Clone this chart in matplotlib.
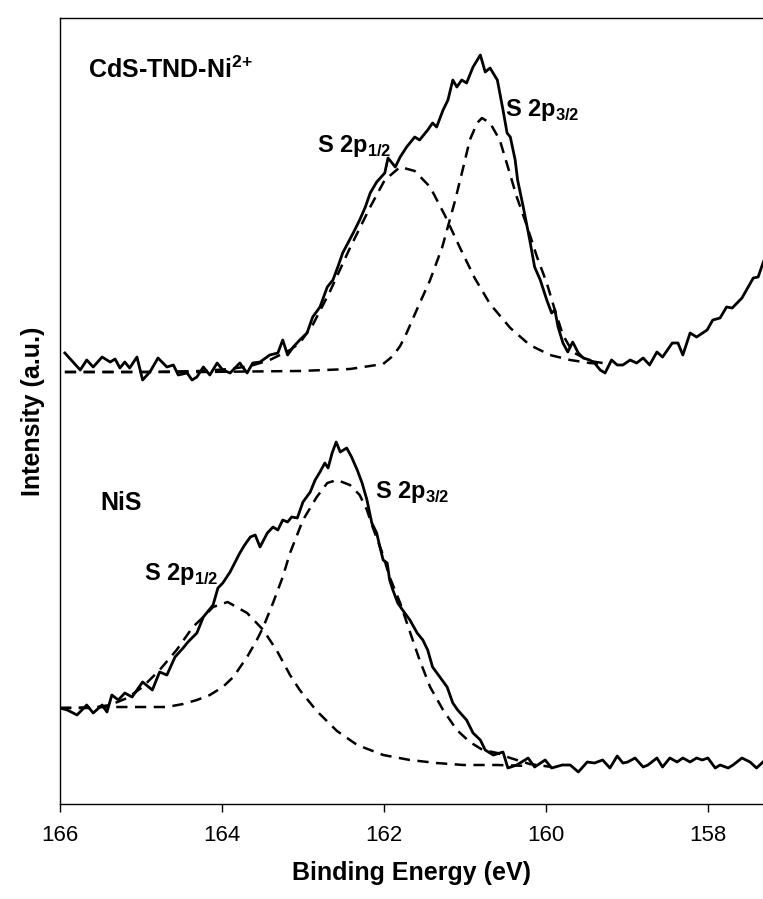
import matplotlib
matplotlib.use("Agg")
import matplotlib.pyplot as plt

# --- data (binding energy in eV, intensity in a.u.) ---

# CdS-TND-Ni2+ : measured spectrum
cds_energy = [165.94, 165.75, 165.67, 165.59, 165.48, 165.38, 165.32, 165.26, 165.20, 165.14,
              165.05, 164.98, 164.89, 164.79, 164.68, 164.60, 164.54, 164.43, 164.37, 164.31,
              164.23, 164.15, 164.06, 163.99, 163.90, 163.78, 163.69, 163.62, 163.53, 163.41,
              163.31, 163.25, 163.19, 163.12, 163.04, 162.95, 162.88, 162.79, 162.70, 162.63,
              162.57, 162.51, 162.38, 162.30, 162.23, 162.17, 162.09, 161.99, 161.95, 161.86,
              161.80, 161.72, 161.62, 161.56, 161.46, 161.40, 161.35, 161.27, 161.21, 161.15,
              161.10, 161.04, 160.98, 160.90, 160.81, 160.75, 160.69, 160.60, 160.53, 160.48,
              160.44, 160.38, 160.35, 160.28, 160.20, 160.14, 160.07, 159.99, 159.93, 159.89,
              159.85, 159.79, 159.73, 159.67, 159.60, 159.54, 159.46, 159.40, 159.33, 159.27,
              159.19, 159.12, 159.05, 158.96, 158.88, 158.80, 158.72, 158.63, 158.56, 158.44,
              158.37, 158.31, 158.22, 158.14, 158.01, 157.94, 157.85, 157.77, 157.70, 157.58,
              157.51, 157.44, 157.38, 157.32, 157.25]
cds_counts = [451, 434, 444, 437, 447, 442, 445, 436, 442, 436,
              447, 424, 432, 446, 437, 439, 429, 431, 424, 427,
              437, 429, 441, 434, 431, 441, 431, 441, 442, 449,
              451, 464, 449, 457, 464, 471, 487, 497, 517, 524,
              537, 551, 571, 584, 597, 611, 622, 631, 646, 637,
              647, 657, 667, 664, 674, 681, 677, 694, 704, 724,
              717, 724, 721, 737, 749, 732, 736, 724, 694, 671,
              667, 644, 624, 597, 564, 537, 524, 504, 491, 494,
              477, 461, 452, 462, 451, 446, 444, 441, 434, 431,
              444, 439, 439, 444, 441, 446, 439, 452, 447, 461,
              461, 449, 471, 467, 474, 484, 486, 497, 496, 506,
              516, 526, 527, 541, 555]

# CdS-TND-Ni2+ : fitted components
cds_p12_energy = [165.94, 164.89, 164.27, 163.90, 163.65, 163.41, 163.16, 163.04, 162.88, 162.67,
                  162.42, 162.17, 161.99, 161.80, 161.62, 161.43, 161.25, 161.06, 160.88, 160.69,
                  160.44, 160.20, 159.95, 159.70, 159.46, 159.30]
cds_p12_counts = [432, 432, 433, 435, 438, 444, 454, 461, 479, 512,
                  556, 597, 624, 637, 633, 617, 589, 556, 526, 500,
                  476, 459, 449, 444, 441, 440]
cds_p32_energy = [165.94, 164.27, 163.04, 162.42, 162.01, 161.89, 161.80, 161.72, 161.58, 161.43,
                  161.28, 161.12, 161.02, 160.94, 160.85, 160.79, 160.69, 160.57, 160.47, 160.36,
                  160.23, 160.11, 159.99, 159.89, 159.79, 159.67, 159.46, 159.30]
cds_p32_counts = [432, 432, 433, 435, 440, 448, 458, 471, 497, 524,
                  557, 604, 637, 664, 681, 686, 681, 664, 637, 607,
                  577, 547, 521, 494, 469, 452, 443, 441]

# NiS : measured spectrum
nis_energy = [166.00, 165.91, 165.79, 165.67, 165.59, 165.48, 165.42, 165.36, 165.28, 165.20,
              165.11, 164.98, 164.86, 164.77, 164.68, 164.58, 164.48, 164.42, 164.31, 164.23,
              164.11, 164.05, 163.99, 163.90, 163.78, 163.72, 163.65, 163.59, 163.53, 163.44,
              163.37, 163.31, 163.25, 163.19, 163.14, 163.07, 163.00, 162.91, 162.85, 162.79,
              162.73, 162.69, 162.64, 162.59, 162.54, 162.46, 162.40, 162.33, 162.27, 162.21,
              162.15, 162.09, 162.05, 162.01, 161.96, 161.93, 161.89, 161.83, 161.77, 161.68,
              161.59, 161.52, 161.46, 161.40, 161.31, 161.22, 161.15, 161.09, 160.98, 160.90,
              160.81, 160.75, 160.65, 160.53, 160.47, 160.36, 160.22, 160.14, 160.01, 159.93,
              159.80, 159.70, 159.60, 159.49, 159.40, 159.30, 159.21, 159.12, 159.05, 158.99,
              158.90, 158.80, 158.74, 158.63, 158.56, 158.47, 158.38, 158.31, 158.22, 158.14,
              158.07, 158.00, 157.91, 157.85, 157.75, 157.69, 157.58, 157.48, 157.40, 157.32]
nis_counts = [96, 94, 89, 99, 91, 99, 92, 109, 104, 111,
              107, 122, 114, 132, 129, 147, 156, 162, 171, 187,
              199, 216, 221, 232, 251, 259, 267, 269, 257, 271,
              277, 274, 284, 282, 287, 286, 302, 312, 324, 332,
              341, 336, 351, 362, 352, 356, 347, 334, 321, 304,
              281, 271, 257, 244, 241, 224, 214, 201, 194, 184,
              171, 164, 154, 137, 127, 117, 101, 94, 84, 71,
              64, 54, 49, 52, 36, 39, 46, 37, 44, 36,
              39, 39, 32, 42, 41, 44, 36, 48, 41, 42,
              46, 37, 39, 46, 37, 46, 42, 46, 42, 46,
              44, 46, 36, 39, 36, 39, 46, 42, 36, 42]

# NiS : fitted components
nis_p12_energy = [166.00, 165.63, 165.38, 165.17, 164.98, 164.77, 164.56, 164.36, 164.23, 164.11,
                  163.93, 163.69, 163.49, 163.32, 163.16, 163.04, 162.83, 162.58, 162.33, 162.01,
                  161.68, 161.35, 161.02, 160.60, 160.20]
nis_p12_counts = [96, 96, 99, 106, 117, 134, 154, 177, 187, 197,
                  202, 191, 174, 153, 129, 114, 93, 73, 59, 49,
                  44, 41, 39, 39, 38]
nis_p32_energy = [166.00, 165.38, 164.93, 164.68, 164.48, 164.31, 164.15, 163.99, 163.86, 163.69,
                  163.57, 163.49, 163.37, 163.25, 163.16, 163.00, 162.83, 162.70, 162.58, 162.42,
                  162.30, 162.21, 162.14, 162.02, 161.93, 161.80, 161.70, 161.56, 161.43, 161.27,
                  161.10, 160.94, 160.78, 160.60, 160.44, 160.20, 159.93]
nis_p32_counts = [96, 97, 97, 97, 100, 104, 109, 117, 127, 147,
                  164, 177, 201, 227, 251, 284, 307, 321, 324, 319,
                  309, 294, 277, 251, 227, 201, 177, 144, 117, 94,
                  74, 62, 54, 51, 46, 40, 37]

x_ticks = [166, 164, 162, 160, 158]

# --- figure ---
plt.rcParams['font.family'] = ['Liberation Sans', 'DejaVu Sans']
plt.rcParams['mathtext.fontset'] = 'custom'
plt.rcParams['mathtext.rm'] = 'Liberation Sans'
plt.rcParams['mathtext.bf'] = 'Liberation Sans:bold'

fig = plt.figure(figsize=(7.63, 8.99), dpi=100)
ax = fig.add_axes([60 / 763, 95 / 899, 1 - 60 / 763, 786 / 899])

solid = dict(color='black', lw=2.0, solid_joinstyle='round')
dash = dict(color='black', lw=1.8, dashes=(4.5, 3))

ax.plot(cds_energy, cds_counts, **solid)
ax.plot(cds_p12_energy, cds_p12_counts, **dash)
ax.plot(cds_p32_energy, cds_p32_counts, **dash)
ax.plot(nis_energy, nis_counts, **solid)
ax.plot(nis_p12_energy, nis_p12_counts, **dash)
ax.plot(nis_p32_energy, nis_p32_counts, **dash)

ax.set_xlim(166, 157.32)
ax.set_ylim(0, 786)
ax.set_xticks(x_ticks)
ax.set_yticks([])
ax.tick_params(axis='x', direction='out', length=6, width=1, pad=9, labelsize=16)
ax.spines['right'].set_visible(False)
for s in ('left', 'top', 'bottom'):
    ax.spines[s].set_linewidth(1.0)

ax.set_xlabel('Binding Energy (eV)', fontsize=18, fontweight='bold', labelpad=11)
ax.set_ylabel('Intensity (a.u.)', fontsize=18, fontweight='bold', labelpad=11)

lab = dict(fontweight='bold', va='baseline', ha='left')
ax.text(165.66, 726, r'CdS-TND-Ni$^{\mathbf{2{+}}}$', fontsize=18, **lab)
ax.text(162.83, 652, r'S 2p$_{\mathbf{1/2}}$', fontsize=17, **lab)
ax.text(160.51, 688, r'S 2p$_{\mathbf{3/2}}$', fontsize=17, **lab)
ax.text(165.50, 294, 'NiS', fontsize=18, **lab)
ax.text(164.96, 224, r'S 2p$_{\mathbf{1/2}}$', fontsize=17, **lab)
ax.text(162.11, 306, r'S 2p$_{\mathbf{3/2}}$', fontsize=17, **lab)

fig.savefig('out.png', dpi=100)
